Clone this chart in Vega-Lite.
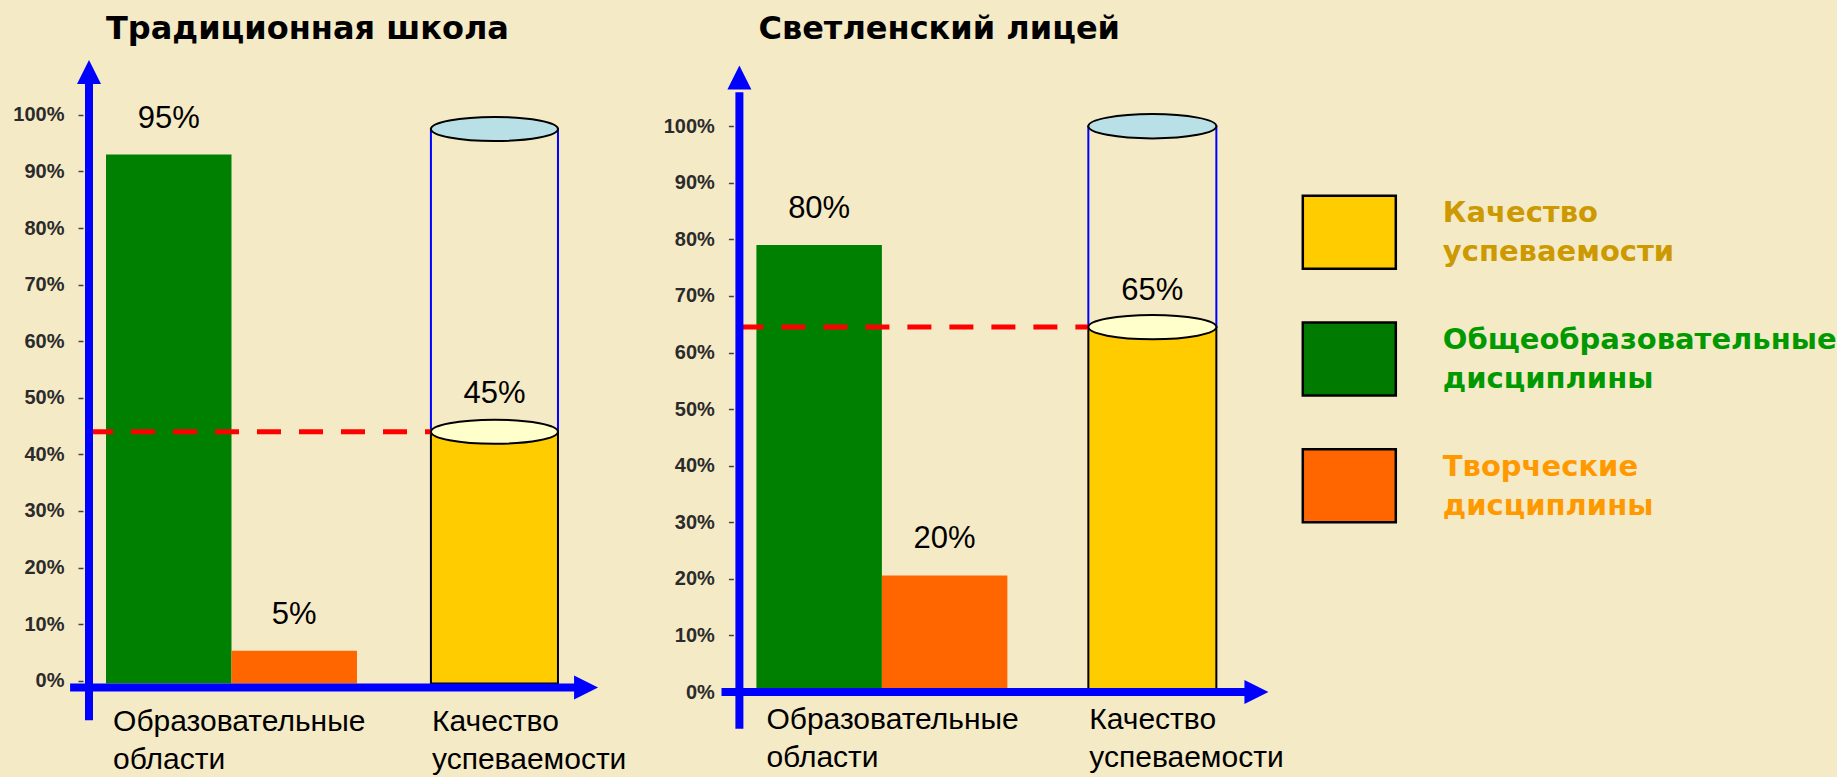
{
  "$schema": "https://vega.github.io/schema/vega-lite/v6.json",
  "background": "#f5eac6",
  "padding": {"left": 12, "top": 12, "right": 20, "bottom": 10},
  "bounds": "flush",
  "spacing": 109.4,
  "config": {"view": {"stroke": null}},
  "datasets": {
    "bars": [
      {"school": "Традиционная школа", "area": "Образовательные области", "discipline": "Общеобразовательные дисциплины", "value": 93, "label": "95%"},
      {"school": "Традиционная школа", "area": "Образовательные области", "discipline": "Творческие дисциплины", "value": 5.3, "label": "5%"},
      {"school": "Светленский лицей", "area": "Образовательные области", "discipline": "Общеобразовательные дисциплины", "value": 79, "label": "80%"},
      {"school": "Светленский лицей", "area": "Образовательные области", "discipline": "Творческие дисциплины", "value": 20.6, "label": "20%"}
    ],
    "quality": [
      {"school": "Традиционная школа", "area": "Качество успеваемости", "value": 44, "top": 97.5, "label": "45%"},
      {"school": "Светленский лицей", "area": "Качество успеваемости", "value": 64.5, "top": 100, "label": "65%"}
    ],
    "areas": [
      {"area": "Образовательные области"},
      {"area": "Качество успеваемости"}
    ],
    "legend": [
      {"item": "Качество успеваемости"},
      {"item": "Общеобразовательные дисциплины"},
      {"item": "Творческие дисциплины"}
    ]
  },
  "hconcat": [
    {
      "width": 540.6,
      "height": 679,
      "title": {"text": "Традиционная школа", "anchor": "start", "frame": "group", "dx": 17, "offset": -23.5, "baseline": "alphabetic", "font": "DejaVu Sans", "fontSize": 32, "fontWeight": "bold", "color": "#000000"},
      "data": {"name": "quality"},
      "transform": [{"filter": "datum.school === 'Традиционная школа'"}],
      "resolve": {"axis": {"y": "independent", "x": "independent"}},
      "layer": [
        {
          "data": {"name": "bars"},
          "transform": [{"filter": "datum.school === 'Традиционная школа'"}],
          "mark": {"type": "bar"},
          "encoding": {
            "x": {"field": "area", "type": "nominal", "scale": {"domain": ["Образовательные области", "Качество успеваемости"], "paddingInner": 0, "paddingOuter": 0}, "axis": null},
            "xOffset": {"field": "discipline", "type": "nominal", "scale": {"domain": ["Общеобразовательные дисциплины", "Творческие дисциплины"], "paddingInner": 0, "paddingOuter": 0.077, "align": 0.88}},
            "y": {"field": "value", "type": "quantitative", "scale": {"domain": [-8, 112], "nice": false, "zero": false},
              "axis": {"orient": "left", "values": [0, 10, 20, 30, 40, 50, 60, 70, 80, 90, 100], "labelExpr": "datum.value + '%'", "title": null, "domain": false, "grid": false, "ticks": true, "tickSize": 5, "tickWidth": 1.5, "tickColor": "#444444", "labelPadding": 14, "offset": 6, "labelFont": "Liberation Sans", "labelFontSize": 20, "labelFontWeight": "bold", "labelColor": "#2b2b2b"}},
            "y2": {"datum": -0.5},
            "color": {"field": "discipline", "type": "nominal", "scale": {"domain": ["Общеобразовательные дисциплины", "Творческие дисциплины"], "range": ["#008000", "#ff6600"]}, "legend": null}
          }
        },
        {
          "data": {"name": "bars"},
          "transform": [{"filter": "datum.school === 'Традиционная школа'"}],
          "mark": {"type": "text", "dy": -36, "baseline": "middle", "font": "Liberation Sans", "fontSize": 31, "color": "#000000"},
          "encoding": {
            "x": {"field": "area", "type": "nominal", "axis": null},
            "xOffset": {"field": "discipline", "type": "nominal"},
            "y": {"field": "value", "type": "quantitative", "axis": null},
            "text": {"field": "label"}
          }
        },
        {
          "mark": {"type": "bar", "width": {"band": 0.47}, "fillOpacity": 0, "stroke": "#0000ff", "strokeWidth": 2},
          "encoding": {
            "x": {"field": "area", "type": "nominal", "axis": null},
            "y": {"field": "value", "type": "quantitative", "axis": null},
            "y2": {"field": "top"}
          }
        },
        {
          "mark": {"type": "bar", "width": {"band": 0.47}, "color": "#ffcc00", "stroke": "#000000", "strokeWidth": 2},
          "encoding": {
            "x": {"field": "area", "type": "nominal", "axis": null},
            "y": {"field": "value", "type": "quantitative", "axis": null},
            "y2": {"datum": -0.5}
          }
        },
        {
          "mark": {"type": "rule", "color": "#ff0000", "strokeWidth": 5, "strokeDash": [24, 18]},
          "encoding": {
            "x": {"datum": "Образовательные области", "type": "nominal", "bandPosition": 0, "axis": null},
            "x2": {"datum": "Качество успеваемости", "bandPosition": 0.5},
            "y": {"field": "value", "type": "quantitative", "axis": null}
          }
        },
        {
          "mark": {"type": "point", "shape": "M -1 0 A 1 0.19 0 1 1 1 0 A 1 0.19 0 1 1 -1 0 Z", "size": 16129, "filled": true, "fill": "#ffffcc", "stroke": "#000000", "strokeWidth": 2, "opacity": 1},
          "encoding": {
            "x": {"field": "area", "type": "nominal", "axis": null},
            "y": {"field": "value", "type": "quantitative", "axis": null}
          }
        },
        {
          "mark": {"type": "point", "shape": "M -1 0 A 1 0.19 0 1 1 1 0 A 1 0.19 0 1 1 -1 0 Z", "size": 16129, "filled": true, "fill": "#b9e0e6", "stroke": "#000000", "strokeWidth": 2, "opacity": 1},
          "encoding": {
            "x": {"field": "area", "type": "nominal", "axis": null},
            "y": {"field": "top", "type": "quantitative", "axis": null}
          }
        },
        {
          "mark": {"type": "text", "dy": -38, "baseline": "middle", "font": "Liberation Sans", "fontSize": 31, "color": "#000000"},
          "encoding": {
            "x": {"field": "area", "type": "nominal", "axis": null},
            "y": {"field": "value", "type": "quantitative", "axis": null},
            "text": {"field": "label"}
          }
        },
        {
          "mark": {"type": "rule", "color": "#0000ff", "strokeWidth": 8},
          "encoding": {
            "x": {"datum": "Образовательные области", "type": "nominal", "bandPosition": 0, "axis": null},
            "y": {"datum": -7, "type": "quantitative", "axis": null},
            "y2": {"datum": 106}
          }
        },
        {
          "mark": {"type": "point", "shape": "M -1 1 L 0 -1 L 1 1 Z", "size": 576, "filled": true, "color": "#0000ff", "opacity": 1},
          "encoding": {
            "x": {"datum": "Образовательные области", "type": "nominal", "bandPosition": 0, "axis": null},
            "y": {"datum": 107.6, "type": "quantitative", "axis": null}
          }
        },
        {
          "mark": {"type": "rule", "color": "#0000ff", "strokeWidth": 8},
          "encoding": {
            "x": {"datum": "Образовательные области", "type": "nominal", "bandPosition": -0.07, "axis": null},
            "x2": {"datum": "Качество успеваемости", "bandPosition": 0.839},
            "y": {"datum": -1.2, "type": "quantitative", "axis": null}
          }
        },
        {
          "mark": {"type": "point", "shape": "M -1 -1 L 1 0 L -1 1 Z", "size": 576, "filled": true, "color": "#0000ff", "opacity": 1},
          "encoding": {
            "x": {"datum": "Качество успеваемости", "type": "nominal", "bandPosition": 0.839, "axis": null},
            "y": {"datum": -1.2, "type": "quantitative", "axis": null}
          }
        },
        {
          "data": {"name": "areas"},
          "transform": [{"filter": "datum.area === 'Образовательные области'"}],
          "mark": {"type": "text", "align": "left", "baseline": "middle", "lineBreak": " ", "lineHeight": 38, "font": "Liberation Sans", "fontSize": 30, "color": "#000000"},
          "encoding": {
            "x": {"field": "area", "type": "nominal", "bandPosition": 0.089, "axis": null},
            "y": {"datum": -7.3, "type": "quantitative", "axis": null},
            "text": {"field": "area"}
          }
        },
        {
          "data": {"name": "areas"},
          "transform": [{"filter": "datum.area === 'Качество успеваемости'"}],
          "mark": {"type": "text", "align": "left", "baseline": "middle", "lineBreak": " ", "lineHeight": 38, "font": "Liberation Sans", "fontSize": 30, "color": "#000000"},
          "encoding": {
            "x": {"field": "area", "type": "nominal", "bandPosition": 0.269, "axis": null},
            "y": {"datum": -7.3, "type": "quantitative", "axis": null},
            "text": {"field": "area"}
          }
        }
      ]
    },
    {
      "spacing": 12.4,
      "bounds": "flush",
      "hconcat": [
        {
          "width": 550.6,
          "height": 679,
          "title": {"text": "Светленский лицей", "anchor": "start", "frame": "group", "dx": 19, "offset": -23.5, "baseline": "alphabetic", "font": "DejaVu Sans", "fontSize": 32, "fontWeight": "bold", "color": "#000000"},
          "data": {"name": "quality"},
          "transform": [{"filter": "datum.school === 'Светленский лицей'"}],
          "resolve": {"axis": {"y": "independent", "x": "independent"}},
          "layer": [
            {
              "data": {"name": "bars"},
              "transform": [{"filter": "datum.school === 'Светленский лицей'"}],
              "mark": {"type": "bar"},
              "encoding": {
                "x": {"field": "area", "type": "nominal", "scale": {"domain": ["Образовательные области", "Качество успеваемости"], "paddingInner": 0, "paddingOuter": 0}, "axis": null},
                "xOffset": {"field": "discipline", "type": "nominal", "scale": {"domain": ["Общеобразовательные дисциплины", "Творческие дисциплины"], "paddingInner": 0, "paddingOuter": 0.0968, "align": 0.7}},
                "y": {"field": "value", "type": "quantitative", "scale": {"domain": [-6, 114], "nice": false, "zero": false},
                  "axis": {"orient": "left", "values": [0, 10, 20, 30, 40, 50, 60, 70, 80, 90, 100], "labelExpr": "datum.value + '%'", "title": null, "domain": false, "grid": false, "ticks": true, "tickSize": 5, "tickWidth": 1.5, "tickColor": "#444444", "labelPadding": 14, "offset": 6, "labelFont": "Liberation Sans", "labelFontSize": 20, "labelFontWeight": "bold", "labelColor": "#2b2b2b"}},
                "y2": {"datum": -0.5},
                "color": {"field": "discipline", "type": "nominal", "scale": {"domain": ["Общеобразовательные дисциплины", "Творческие дисциплины"], "range": ["#008000", "#ff6600"]}, "legend": null}
              }
            },
            {
              "data": {"name": "bars"},
              "transform": [{"filter": "datum.school === 'Светленский лицей'"}],
              "mark": {"type": "text", "dy": -36, "baseline": "middle", "font": "Liberation Sans", "fontSize": 31, "color": "#000000"},
              "encoding": {
                "x": {"field": "area", "type": "nominal", "axis": null},
                "xOffset": {"field": "discipline", "type": "nominal"},
                "y": {"field": "value", "type": "quantitative", "axis": null},
                "text": {"field": "label"}
              }
            },
            {
              "mark": {"type": "bar", "width": {"band": 0.465}, "fillOpacity": 0, "stroke": "#0000ff", "strokeWidth": 2},
              "encoding": {
                "x": {"field": "area", "type": "nominal", "axis": null},
                "y": {"field": "value", "type": "quantitative", "axis": null},
                "y2": {"field": "top"}
              }
            },
            {
              "mark": {"type": "bar", "width": {"band": 0.465}, "color": "#ffcc00", "stroke": "#000000", "strokeWidth": 2},
              "encoding": {
                "x": {"field": "area", "type": "nominal", "axis": null},
                "y": {"field": "value", "type": "quantitative", "axis": null},
                "y2": {"datum": -0.5}
              }
            },
            {
              "mark": {"type": "rule", "color": "#ff0000", "strokeWidth": 5, "strokeDash": [24, 18]},
              "encoding": {
                "x": {"datum": "Образовательные области", "type": "nominal", "bandPosition": 0, "axis": null},
                "x2": {"datum": "Качество успеваемости", "bandPosition": 0.5},
                "y": {"field": "value", "type": "quantitative", "axis": null}
              }
            },
            {
              "mark": {"type": "point", "shape": "M -1 0 A 1 0.19 0 1 1 1 0 A 1 0.19 0 1 1 -1 0 Z", "size": 16384, "filled": true, "fill": "#ffffcc", "stroke": "#000000", "strokeWidth": 2, "opacity": 1},
              "encoding": {
                "x": {"field": "area", "type": "nominal", "axis": null},
                "y": {"field": "value", "type": "quantitative", "axis": null}
              }
            },
            {
              "mark": {"type": "point", "shape": "M -1 0 A 1 0.19 0 1 1 1 0 A 1 0.19 0 1 1 -1 0 Z", "size": 16384, "filled": true, "fill": "#b9e0e6", "stroke": "#000000", "strokeWidth": 2, "opacity": 1},
              "encoding": {
                "x": {"field": "area", "type": "nominal", "axis": null},
                "y": {"field": "top", "type": "quantitative", "axis": null}
              }
            },
            {
              "mark": {"type": "text", "dy": -36, "baseline": "middle", "font": "Liberation Sans", "fontSize": 31, "color": "#000000"},
              "encoding": {
                "x": {"field": "area", "type": "nominal", "axis": null},
                "y": {"field": "value", "type": "quantitative", "axis": null},
                "text": {"field": "label"}
              }
            },
            {
              "mark": {"type": "rule", "color": "#0000ff", "strokeWidth": 8},
              "encoding": {
                "x": {"datum": "Образовательные области", "type": "nominal", "bandPosition": 0, "axis": null},
                "y": {"datum": -6.5, "type": "quantitative", "axis": null},
                "y2": {"datum": 106}
              }
            },
            {
              "mark": {"type": "point", "shape": "M -1 1 L 0 -1 L 1 1 Z", "size": 576, "filled": true, "color": "#0000ff", "opacity": 1},
              "encoding": {
                "x": {"datum": "Образовательные области", "type": "nominal", "bandPosition": 0, "axis": null},
                "y": {"datum": 108.6, "type": "quantitative", "axis": null}
              }
            },
            {
              "mark": {"type": "rule", "color": "#0000ff", "strokeWidth": 8},
              "encoding": {
                "x": {"datum": "Образовательные области", "type": "nominal", "bandPosition": -0.065, "axis": null},
                "x2": {"datum": "Качество успеваемости", "bandPosition": 0.878},
                "y": {"datum": 0, "type": "quantitative", "axis": null}
              }
            },
            {
              "mark": {"type": "point", "shape": "M -1 -1 L 1 0 L -1 1 Z", "size": 576, "filled": true, "color": "#0000ff", "opacity": 1},
              "encoding": {
                "x": {"datum": "Качество успеваемости", "type": "nominal", "bandPosition": 0.878, "axis": null},
                "y": {"datum": 0, "type": "quantitative", "axis": null}
              }
            },
            {
              "data": {"name": "areas"},
              "transform": [{"filter": "datum.area === 'Образовательные области'"}],
              "mark": {"type": "text", "align": "left", "baseline": "middle", "lineBreak": " ", "lineHeight": 38, "font": "Liberation Sans", "fontSize": 30, "color": "#000000"},
              "encoding": {
                "x": {"field": "area", "type": "nominal", "bandPosition": 0.098, "axis": null},
                "y": {"datum": -4.9, "type": "quantitative", "axis": null},
                "text": {"field": "area"}
              }
            },
            {
              "data": {"name": "areas"},
              "transform": [{"filter": "datum.area === 'Качество успеваемости'"}],
              "mark": {"type": "text", "align": "left", "baseline": "middle", "lineBreak": " ", "lineHeight": 38, "font": "Liberation Sans", "fontSize": 30, "color": "#000000"},
              "encoding": {
                "x": {"field": "area", "type": "nominal", "bandPosition": 0.271, "axis": null},
                "y": {"datum": -4.9, "type": "quantitative", "axis": null},
                "text": {"field": "area"}
              }
            }
          ]
        },
        {
          "width": 93,
          "height": 624,
          "data": {"name": "legend"},
          "layer": [
            {
              "mark": {"type": "bar", "height": {"band": 0.576}, "stroke": "#000000", "strokeWidth": 2.5},
              "encoding": {
                "y": {"field": "item", "type": "nominal", "scale": {"domain": ["Качество успеваемости", "Общеобразовательные дисциплины", "Творческие дисциплины"], "paddingInner": 0, "paddingOuter": 0.96, "align": 0.5}, "axis": null},
                "x": {"datum": 0, "type": "quantitative", "scale": {"domain": [0, 1]}, "axis": null},
                "x2": {"datum": 1},
                "color": {"field": "item", "type": "nominal", "scale": {"domain": ["Качество успеваемости", "Общеобразовательные дисциплины", "Творческие дисциплины"], "range": ["#ffcc00", "#007a00", "#ff6600"]}, "legend": null}
              }
            },
            {
              "mark": {"type": "text", "align": "left", "baseline": "middle", "dx": 47, "dy": -19, "lineBreak": " ", "lineHeight": 39, "font": "DejaVu Sans", "fontSize": 29, "fontWeight": "bold"},
              "encoding": {
                "y": {"field": "item", "type": "nominal", "axis": null},
                "x": {"datum": 1, "type": "quantitative", "axis": null},
                "text": {"field": "item"},
                "color": {"field": "item", "type": "nominal", "scale": {"domain": ["Качество успеваемости", "Общеобразовательные дисциплины", "Творческие дисциплины"], "range": ["#cc9900", "#009900", "#ff9900"]}, "legend": null}
              }
            }
          ],
          "resolve": {"scale": {"color": "independent"}}
        }
      ]
    }
  ]
}
